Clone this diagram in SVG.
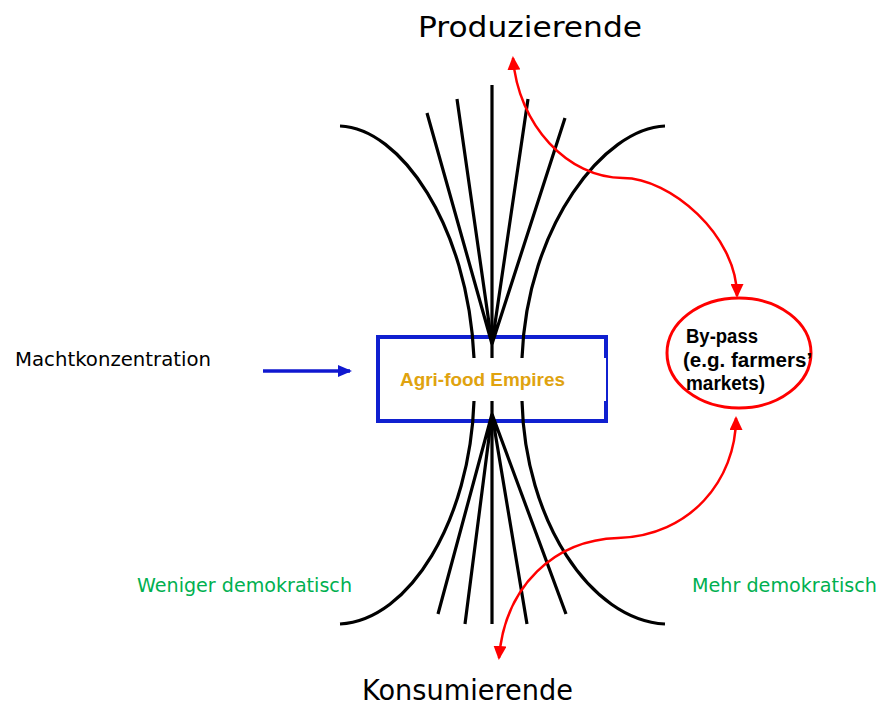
<svg xmlns="http://www.w3.org/2000/svg" width="883" height="708" viewBox="0 0 883 708">
<style>
.lbl{font-family:"DejaVu Sans","Liberation Sans",sans-serif;fill:#000}
.big{font-size:28px}
.mid{font-size:19px}
.green{fill:#00B050}
.bold{font-family:"Liberation Sans",Arial,sans-serif;font-weight:bold}
.blk{fill:none;stroke:#000;stroke-width:3.2}
.red{fill:none;stroke:#FF0000;stroke-width:2.5}
</style>
<defs>
<marker id="redhead" markerUnits="userSpaceOnUse" viewBox="0 0 14 13" refX="12" refY="6.5" markerWidth="14" markerHeight="13" orient="auto-start-reverse">
<path d="M0,0 L14,6.5 L0,13 z" fill="#FF0000"/>
</marker>
<marker id="bluehead" markerUnits="userSpaceOnUse" viewBox="0 0 14 12" refX="12" refY="6" markerWidth="14" markerHeight="12" orient="auto">
<path d="M0,0 L14,6 L0,12 z" fill="#1018D0"/>
</marker>
</defs>
<rect width="883" height="708" fill="#fff"/>

<g id="producers"><text class="lbl big" x="418" y="37" textLength="224" lengthAdjust="spacingAndGlyphs">Produzierende</text></g>
<g id="consumers"><text class="lbl big" x="362" y="700" textLength="211" lengthAdjust="spacingAndGlyphs">Konsumierende</text></g>
<g id="machtkonzentration"><text class="lbl mid" x="15" y="366" textLength="196" lengthAdjust="spacingAndGlyphs">Machtkonzentration</text></g>
<g id="weniger"><text class="lbl mid green" x="137" y="592" textLength="215" lengthAdjust="spacingAndGlyphs">Weniger demokratisch</text></g>
<g id="mehr"><text class="lbl mid green" x="692" y="592" textLength="185" lengthAdjust="spacingAndGlyphs">Mehr demokratisch</text></g>

<g id="empires">
<rect x="378" y="337" width="228" height="84" fill="none" stroke="#1020D0" stroke-width="4"/>
<rect x="380" y="358" width="226" height="43" fill="#fff"/>
</g>

<g id="hourglass">
<path class="blk" d="M340,126 C400,128 468,225 474,358"/>
<path class="blk" d="M665,126 C605,128 527,225 522,358"/>
<path class="blk" d="M492,85 L492,358"/>
<path class="blk" d="M427,113 L492,344 M457,99 L492,344 M528,99 L492,344 M565,118 L492,344"/>
<path class="blk" d="M474,401 C470,520 410,620 340,624"/>
<path class="blk" d="M522,401 C525,520 590,620 665,624"/>
<path class="blk" d="M492,401 L492,624"/>
<path class="blk" d="M438,614 L492,414 M465,624 L492,414 M527,624 L492,414 M566,614 L492,414"/>
</g>

<g id="empires-label"><text class="bold" x="400" y="386" font-size="18" fill="#E0A30F" textLength="165" lengthAdjust="spacingAndGlyphs">Agri-food Empires</text></g>

<g id="bypass">
<ellipse cx="739" cy="353" rx="72" ry="55" fill="none" stroke="#FF0000" stroke-width="3"/>
<text class="bold" font-size="20" fill="#000">
<tspan x="686" y="343" textLength="72" lengthAdjust="spacingAndGlyphs">By-pass</tspan>
<tspan x="683" y="367" textLength="128" lengthAdjust="spacingAndGlyphs">(e.g. farmers’</tspan>
<tspan x="686" y="390" textLength="79" lengthAdjust="spacingAndGlyphs">markets)</tspan>
</text>
</g>

<g id="connectors">
<path class="red" d="M513,58 C518,125 568,178 623,178 C670,178 737,235 737,296" marker-start="url(#redhead)" marker-end="url(#redhead)"/>
<path class="red" d="M499,658 C505,585 555,540 618,538 C690,536 736,480 736,418" marker-start="url(#redhead)" marker-end="url(#redhead)"/>
<path d="M263,371 L350,371" fill="none" stroke="#1018D0" stroke-width="3.5" marker-end="url(#bluehead)"/>
</g>
</svg>
